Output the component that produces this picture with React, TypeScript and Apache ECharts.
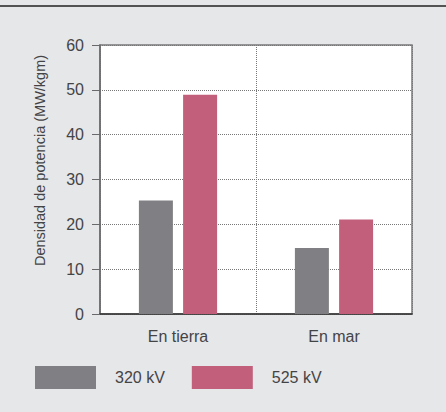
import React, { useEffect, useRef } from "react";
import * as echarts from "echarts";

const categories = ["En tierra", "En mar"];
const series320 = [25.3, 14.7];
const series525 = [48.9, 21.1];
const seriesNames = ["320 kV", "525 kV"];
const yTicks = { min: 0, max: 60, interval: 10 };

const FONT = "'Liberation Sans', Arial, Helvetica, sans-serif";
const TEXT = "#444446";

export default function App() {
  const ref = useRef<HTMLDivElement>(null);
  useEffect(() => {
    document.body.style.margin = "0";
    const chart = echarts.init(ref.current!, null, { renderer: "svg" });
    chart.setOption({
      animation: false,
      backgroundColor: "#e6e7e9",
      textStyle: { fontFamily: FONT },
      graphic: [
        {
          type: "line",
          shape: { x1: 0, y1: 6, x2: 446, y2: 6 },
          style: { stroke: "#222", lineWidth: 1.5 },
        },
      ],
      grid: {
        left: 100,
        top: 45,
        right: 34,
        bottom: 98,
        show: true,
        backgroundColor: "#ffffff",
        borderColor: "#7a7a7c",
        borderWidth: 1.5,
      },
      legend: {
        left: 35,
        top: 366,
        padding: 0,
        itemWidth: 61,
        itemHeight: 23,
        itemGap: 27,
        icon: "rect",
        data: seriesNames,
        textStyle: { fontSize: 16, color: TEXT, fontFamily: FONT, padding: [0, 0, 0, 14] },
      },
      xAxis: {
        type: "category",
        data: categories,
        axisLine: { lineStyle: { color: "#333", width: 1.5 } },
        axisTick: { show: false },
        axisLabel: { fontSize: 16, color: TEXT, margin: 14, fontFamily: FONT },
        splitLine: { show: true, lineStyle: { type: "dotted", color: "#777", width: 1 } },
      },
      yAxis: {
        type: "value",
        min: yTicks.min,
        max: yTicks.max,
        interval: yTicks.interval,
        name: "Densidad de potencia (MW/kgm)",
        nameLocation: "middle",
        nameGap: 53,
        nameTextStyle: { fontSize: 14.5, color: TEXT, fontFamily: FONT, padding: [0, 0, 0, 38] },
        axisLine: { show: true, lineStyle: { color: "#6a6a6c", width: 1.5 } },
        axisTick: { show: true, length: 8, lineStyle: { color: "#6a6a6c" } },
        axisLabel: { fontSize: 16, color: TEXT, margin: 16, fontFamily: FONT },
        splitLine: { show: true, lineStyle: { type: "dotted", color: "#777", width: 1 } },
      },
      series: [
        {
          name: seriesNames[0],
          type: "bar",
          data: series320,
          barWidth: 34,
          barGap: "30%",
          itemStyle: { color: "#808084" },
        },
        {
          name: seriesNames[1],
          type: "bar",
          data: series525,
          barWidth: 34,
          itemStyle: { color: "#c2607c" },
        },
      ],
    });
    return () => chart.dispose();
  }, []);
  return <div ref={ref} style={{ width: 446, height: 412 }} />;
}
